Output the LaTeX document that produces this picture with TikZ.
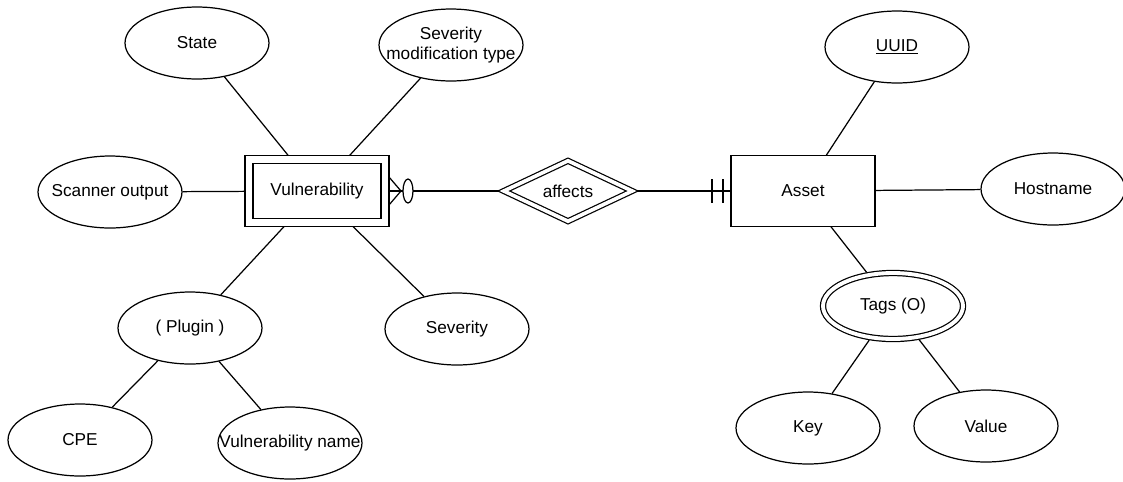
\documentclass[tikz,border=0pt]{standalone}
\usepackage{fontspec}
\setmainfont{Liberation Sans}
\usetikzlibrary{shapes.geometric}

\begin{document}
\begin{tikzpicture}[x=0.02cm, y=-0.02cm, line width=0.7pt,
        font=\fontsize{9.8}{11.5}\selectfont,
        attr/.style={draw, ellipse, minimum width=2.88cm, minimum height=1.44cm,
            inner xsep=-0.6cm, inner ysep=-0.1cm, align=center},
        multiattr/.style={attr, double, double distance=2.2pt,
            minimum width=2.8cm, minimum height=1.32cm, outer sep=1.8pt},
        entity/.style={draw, rectangle, minimum width=2.88cm, minimum height=1.42cm,
            inner sep=0pt, outer sep=0pt},
        relation/.style={draw, diamond, double, double distance=2.1pt,
            minimum width=2.62cm, minimum height=1.26cm, inner sep=0pt, outer sep=1.8pt}]

        \useasboundingbox (0,0) rectangle (1123,481);

        % Vulnerability side
        \node[attr] (state) at (197,43) {State};
        \node[attr] (sevmod) at (451,45) {Severity\\modification type};
        \node[attr] (scanner) at (110,192) {Scanner output};
        \node[entity] (vuln) at (317,191) {Vulnerability};
        \node[attr] (plugin) at (190,328) {( Plugin )};
        \node[attr] (severity) at (457,329) {Severity};
        \node[attr] (cpe) at (80,440) {CPE};
        \node[attr] (vulnname) at (290,443) {Vulnerability name};
        \draw ([shift={(8,-8)}]vuln.south west) rectangle ([shift={(-8,8)}]vuln.north east);

        % relationship
        \node[relation] (affects) at (568,191) {affects};

        % Asset side
        \node[entity] (asset) at (803,191) {Asset};
        \node[attr] (uuid) at (897,47) {\underline{UUID}};
        \node[attr] (hostname) at (1053,189) {Hostname};
        \node[multiattr] (tags) at (893,306) {Tags (O)};
        \node[attr] (key) at (808,428) {Key};
        \node[attr] (value) at (986,426) {Value};

        \foreach \a/\b in {state/vuln, sevmod/vuln, scanner/vuln, plugin/vuln, severity/vuln,
                cpe/plugin, vulnname/plugin, vuln/affects, affects/asset,
                uuid/asset, hostname/asset, tags/asset, key/tags, value/tags}
            \draw (\a) -- (\b);

        % zero or many
        \draw ([shift={(0,-14)}]vuln.east) -- ([shift={(12,0)}]vuln.east) -- ([shift={(0,14)}]vuln.east);
        \draw[fill=white] ([shift={(19,0)}]vuln.east) ellipse [x radius=0.1cm, y radius=0.24cm];

        % exactly one
        \draw ([shift={(-19,-12)}]asset.west) -- ([shift={(-19,12)}]asset.west);
        \draw ([shift={(-8,-12)}]asset.west) -- ([shift={(-8,12)}]asset.west);

    \end{tikzpicture}
\end{document}
